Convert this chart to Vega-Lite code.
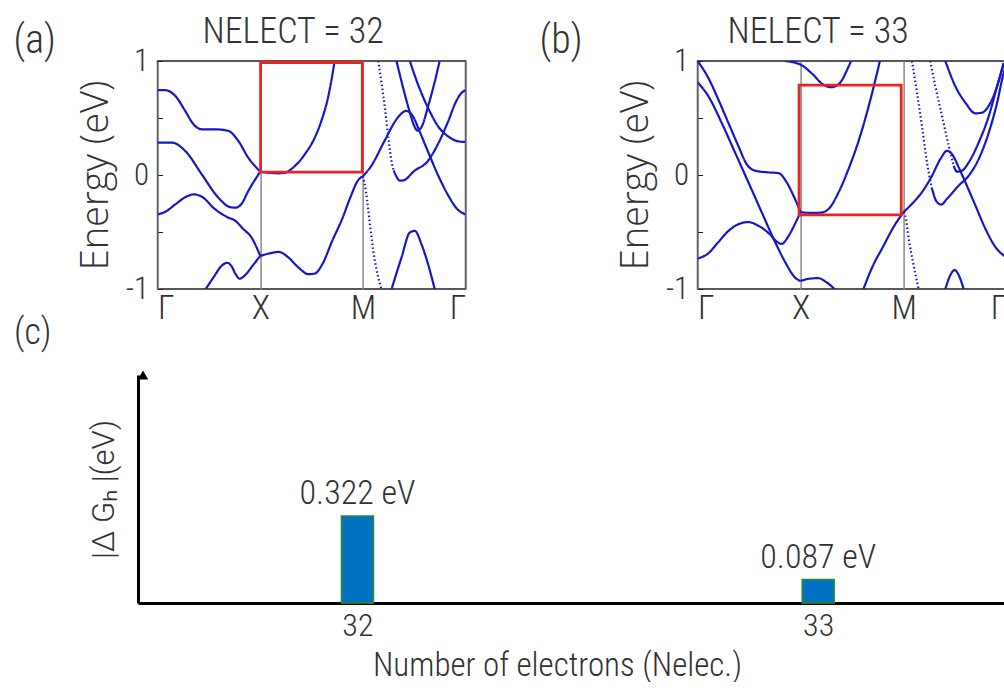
{
 "$schema": "https://vega.github.io/schema/vega-lite/v6.json",
 "padding": {"left": 12, "top": 12, "right": 0, "bottom": 0},
 "background": "white",
 "config": {
  "view": {"stroke": "#222", "strokeWidth": 1.6},
  "axis": {"labelColor": "#333", "titleColor": "#333", "titleFontWeight": 300, "labelFontWeight": 300},
  "title": {"color": "#333", "fontWeight": 300}
 },
 "datasets": {
  "bandsA": [
   {"band":"a1","line":"solid","k":0,"E":0.744},{"band":"a1","line":"solid","k":0.074,"E":0.744},{"band":"a1","line":"solid","k":0.172,"E":0.694},{"band":"a1","line":"solid","k":0.269,"E":0.562},{"band":"a1","line":"solid","k":0.35,"E":0.445},{"band":"a1","line":"solid","k":0.43,"E":0.401},{"band":"a1","line":"solid","k":0.56,"E":0.401},{"band":"a1","line":"solid","k":0.689,"E":0.387},{"band":"a1","line":"solid","k":0.786,"E":0.299},{"band":"a1","line":"solid","k":0.883,"E":0.152},{"band":"a1","line":"solid","k":1.0,"E":0.029},
   {"band":"a2","line":"solid","k":0,"E":0.284},{"band":"a2","line":"solid","k":0.139,"E":0.284},{"band":"a2","line":"solid","k":0.269,"E":0.211},{"band":"a2","line":"solid","k":0.43,"E":0.006},{"band":"a2","line":"solid","k":0.592,"E":-0.199},{"band":"a2","line":"solid","k":0.7,"E":-0.28},{"band":"a2","line":"solid","k":0.76,"E":-0.287},{"band":"a2","line":"solid","k":0.82,"E":-0.25},{"band":"a2","line":"solid","k":0.883,"E":-0.141},{"band":"a2","line":"solid","k":1.0,"E":0.029},
   {"band":"a3","line":"solid","k":1.0,"E":0.029},{"band":"a3","line":"solid","k":1.078,"E":0.02},{"band":"a3","line":"solid","k":1.175,"E":0.015},{"band":"a3","line":"solid","k":1.239,"E":0.02},{"band":"a3","line":"solid","k":1.337,"E":0.079},{"band":"a3","line":"solid","k":1.434,"E":0.182},{"band":"a3","line":"solid","k":1.531,"E":0.328},{"band":"a3","line":"solid","k":1.595,"E":0.474},{"band":"a3","line":"solid","k":1.66,"E":0.679},{"band":"a3","line":"solid","k":1.725,"E":1.0},
   {"band":"a4","line":"solid","k":1.0,"E":-0.71},{"band":"a4","line":"solid","k":1.08,"E":-0.69},{"band":"a4","line":"solid","k":1.18,"E":-0.675},{"band":"a4","line":"solid","k":1.27,"E":-0.72},{"band":"a4","line":"solid","k":1.37,"E":-0.81},{"band":"a4","line":"solid","k":1.47,"E":-0.87},{"band":"a4","line":"solid","k":1.53,"E":-0.865},{"band":"a4","line":"solid","k":1.6,"E":-0.79},{"band":"a4","line":"solid","k":1.7,"E":-0.58},{"band":"a4","line":"solid","k":1.8,"E":-0.38},{"band":"a4","line":"solid","k":1.88,"E":-0.19},{"band":"a4","line":"solid","k":1.95,"E":-0.05},{"band":"a4","line":"solid","k":2.0,"E":-0.01},
   {"band":"a5","line":"solid","k":0,"E":-0.346},{"band":"a5","line":"solid","k":0.08,"E":-0.32},{"band":"a5","line":"solid","k":0.172,"E":-0.258},{"band":"a5","line":"solid","k":0.28,"E":-0.19},{"band":"a5","line":"solid","k":0.35,"E":-0.17},{"band":"a5","line":"solid","k":0.43,"E":-0.19},{"band":"a5","line":"solid","k":0.56,"E":-0.3},{"band":"a5","line":"solid","k":0.68,"E":-0.37},{"band":"a5","line":"solid","k":0.754,"E":-0.4},{"band":"a5","line":"solid","k":0.83,"E":-0.47},{"band":"a5","line":"solid","k":0.916,"E":-0.55},{"band":"a5","line":"solid","k":1.0,"E":-0.71},
   {"band":"a6","line":"solid","k":0.469,"E":-1.0},{"band":"a6","line":"solid","k":0.55,"E":-0.89},{"band":"a6","line":"solid","k":0.62,"E":-0.8},{"band":"a6","line":"solid","k":0.68,"E":-0.77},{"band":"a6","line":"solid","k":0.72,"E":-0.8},{"band":"a6","line":"solid","k":0.76,"E":-0.87},{"band":"a6","line":"solid","k":0.8,"E":-0.91},{"band":"a6","line":"solid","k":0.85,"E":-0.88},{"band":"a6","line":"solid","k":0.93,"E":-0.79},{"band":"a6","line":"solid","k":1.0,"E":-0.71},
   {"band":"a7","line":"solid","k":2.0,"E":-0.01},{"band":"a7","line":"solid","k":2.081,"E":0.079},{"band":"a7","line":"solid","k":2.21,"E":0.299},{"band":"a7","line":"solid","k":2.34,"E":0.504},{"band":"a7","line":"solid","k":2.421,"E":0.562},{"band":"a7","line":"solid","k":2.485,"E":0.518},{"band":"a7","line":"solid","k":2.55,"E":0.387},{"band":"a7","line":"solid","k":2.631,"E":0.211},{"band":"a7","line":"solid","k":2.728,"E":0.006},{"band":"a7","line":"solid","k":2.825,"E":-0.17},{"band":"a7","line":"solid","k":2.922,"E":-0.302},{"band":"a7","line":"solid","k":3.0,"E":-0.346},
   {"band":"a8","line":"dotted","k":2.0,"E":-0.01},{"band":"a8","line":"dotted","k":2.03,"E":-0.15},{"band":"a8","line":"dotted","k":2.07,"E":-0.45},{"band":"a8","line":"dotted","k":2.11,"E":-0.72},{"band":"a8","line":"dotted","k":2.15,"E":-0.9},{"band":"a8","line":"dotted","k":2.18,"E":-1.0},
   {"band":"a9","line":"dotted","k":2.149,"E":1.0},{"band":"a9","line":"dotted","k":2.214,"E":0.589},{"band":"a9","line":"dotted","k":2.252,"E":0.297},{"band":"a9","line":"dotted","k":2.278,"E":0.122},{"band":"a9","line":"dotted","k":2.3,"E":0.04},
   {"band":"a10","line":"solid","k":2.3,"E":0.04},{"band":"a10","line":"solid","k":2.33,"E":-0.02},{"band":"a10","line":"solid","k":2.36,"E":-0.05},{"band":"a10","line":"solid","k":2.4,"E":-0.045},{"band":"a10","line":"solid","k":2.5,"E":0.035},{"band":"a10","line":"solid","k":2.63,"E":0.12},{"band":"a10","line":"solid","k":2.73,"E":0.27},{"band":"a10","line":"solid","k":2.83,"E":0.47},{"band":"a10","line":"solid","k":2.91,"E":0.65},{"band":"a10","line":"solid","k":2.96,"E":0.72},{"band":"a10","line":"solid","k":3.0,"E":0.744},
   {"band":"a11","line":"solid","k":2.327,"E":1.0},{"band":"a11","line":"solid","k":2.39,"E":0.77},{"band":"a11","line":"solid","k":2.45,"E":0.57},{"band":"a11","line":"solid","k":2.5,"E":0.43},{"band":"a11","line":"solid","k":2.53,"E":0.39},{"band":"a11","line":"solid","k":2.57,"E":0.42},{"band":"a11","line":"solid","k":2.64,"E":0.62},{"band":"a11","line":"solid","k":2.7,"E":0.82},{"band":"a11","line":"solid","k":2.747,"E":1.0},
   {"band":"a12","line":"solid","k":2.457,"E":1.0},{"band":"a12","line":"solid","k":2.537,"E":0.793},{"band":"a12","line":"solid","k":2.634,"E":0.589},{"band":"a12","line":"solid","k":2.731,"E":0.429},{"band":"a12","line":"solid","k":2.86,"E":0.321},{"band":"a12","line":"solid","k":2.93,"E":0.295},{"band":"a12","line":"solid","k":3.0,"E":0.29},
   {"band":"a13","line":"solid","k":2.279,"E":-1.0},{"band":"a13","line":"solid","k":2.376,"E":-0.723},{"band":"a13","line":"solid","k":2.457,"E":-0.504},{"band":"a13","line":"solid","k":2.505,"E":-0.49},{"band":"a13","line":"solid","k":2.57,"E":-0.606},{"band":"a13","line":"solid","k":2.634,"E":-0.781},{"band":"a13","line":"solid","k":2.699,"E":-1.0}
  ],
  "bandsB": [
   {"band":"b1","line":"solid","k":0,"E":1.0},{"band":"b1","line":"solid","k":0.104,"E":0.852},{"band":"b1","line":"solid","k":0.201,"E":0.663},{"band":"b1","line":"solid","k":0.298,"E":0.459},{"band":"b1","line":"solid","k":0.395,"E":0.256},{"band":"b1","line":"solid","k":0.476,"E":0.096},{"band":"b1","line":"solid","k":0.558,"E":0.038},{"band":"b1","line":"solid","k":0.687,"E":0.023},{"band":"b1","line":"solid","k":0.784,"E":0.017},{"band":"b1","line":"solid","k":0.865,"E":-0.064},{"band":"b1","line":"solid","k":0.93,"E":-0.18},{"band":"b1","line":"solid","k":1.0,"E":-0.325},
   {"band":"b2","line":"solid","k":0,"E":0.814},{"band":"b2","line":"solid","k":0.104,"E":0.692},{"band":"b2","line":"solid","k":0.233,"E":0.459},{"band":"b2","line":"solid","k":0.363,"E":0.198},{"band":"b2","line":"solid","k":0.493,"E":-0.064},{"band":"b2","line":"solid","k":0.622,"E":-0.326},{"band":"b2","line":"solid","k":0.752,"E":-0.587},{"band":"b2","line":"solid","k":0.849,"E":-0.762},{"band":"b2","line":"solid","k":0.947,"E":-0.9},{"band":"b2","line":"solid","k":1.0,"E":-0.93},
   {"band":"b3","line":"solid","k":0,"E":-0.733},{"band":"b3","line":"solid","k":0.1,"E":-0.69},{"band":"b3","line":"solid","k":0.2,"E":-0.59},{"band":"b3","line":"solid","k":0.3,"E":-0.49},{"band":"b3","line":"solid","k":0.4,"E":-0.43},{"band":"b3","line":"solid","k":0.49,"E":-0.413},{"band":"b3","line":"solid","k":0.59,"E":-0.445},{"band":"b3","line":"solid","k":0.69,"E":-0.51},{"band":"b3","line":"solid","k":0.77,"E":-0.585},{"band":"b3","line":"solid","k":0.815,"E":-0.605},{"band":"b3","line":"solid","k":0.88,"E":-0.54},{"band":"b3","line":"solid","k":0.95,"E":-0.42},{"band":"b3","line":"solid","k":1.0,"E":-0.325},
   {"band":"b4","line":"solid","k":0.85,"E":1.0},{"band":"b4","line":"solid","k":1.0,"E":0.968},{"band":"b4","line":"solid","k":1.11,"E":0.89},{"band":"b4","line":"solid","k":1.21,"E":0.8},{"band":"b4","line":"solid","k":1.29,"E":0.77},{"band":"b4","line":"solid","k":1.34,"E":0.78},{"band":"b4","line":"solid","k":1.4,"E":0.83},{"band":"b4","line":"solid","k":1.45,"E":0.92},{"band":"b4","line":"solid","k":1.49,"E":1.0},
   {"band":"b5","line":"solid","k":1.0,"E":-0.325},{"band":"b5","line":"solid","k":1.1,"E":-0.333},{"band":"b5","line":"solid","k":1.2,"E":-0.33},{"band":"b5","line":"solid","k":1.28,"E":-0.29},{"band":"b5","line":"solid","k":1.37,"E":-0.15},{"band":"b5","line":"solid","k":1.46,"E":0.04},{"band":"b5","line":"solid","k":1.56,"E":0.29},{"band":"b5","line":"solid","k":1.66,"E":0.6},{"band":"b5","line":"solid","k":1.73,"E":0.85},{"band":"b5","line":"solid","k":1.77,"E":1.0},
   {"band":"b6","line":"solid","k":1.0,"E":-0.93},{"band":"b6","line":"solid","k":1.08,"E":-0.91},{"band":"b6","line":"solid","k":1.17,"E":-0.905},{"band":"b6","line":"solid","k":1.25,"E":-0.94},{"band":"b6","line":"solid","k":1.33,"E":-1.0},
   {"band":"b7","line":"solid","k":1.61,"E":-1.0},{"band":"b7","line":"solid","k":1.7,"E":-0.8},{"band":"b7","line":"solid","k":1.8,"E":-0.63},{"band":"b7","line":"solid","k":1.9,"E":-0.46},{"band":"b7","line":"solid","k":2.0,"E":-0.325},
   {"band":"b8","line":"solid","k":2.0,"E":-0.325},{"band":"b8","line":"solid","k":2.081,"E":-0.253},{"band":"b8","line":"solid","k":2.178,"E":-0.151},{"band":"b8","line":"solid","k":2.276,"E":-0.006},{"band":"b8","line":"solid","k":2.357,"E":0.14},{"band":"b8","line":"solid","k":2.421,"E":0.212},{"band":"b8","line":"solid","k":2.47,"E":0.183},{"band":"b8","line":"solid","k":2.535,"E":0.067},{"band":"b8","line":"solid","k":2.6,"E":-0.064},{"band":"b8","line":"solid","k":2.697,"E":-0.267},{"band":"b8","line":"solid","k":2.794,"E":-0.471},{"band":"b8","line":"solid","k":2.891,"E":-0.631},{"band":"b8","line":"solid","k":3.0,"E":-0.724},
   {"band":"b9","line":"dotted","k":2.081,"E":1.0},{"band":"b9","line":"dotted","k":2.13,"E":0.721},{"band":"b9","line":"dotted","k":2.178,"E":0.43},{"band":"b9","line":"dotted","k":2.227,"E":0.11},{"band":"b9","line":"dotted","k":2.276,"E":-0.122},
   {"band":"b10","line":"solid","k":2.276,"E":-0.122},{"band":"b10","line":"solid","k":2.324,"E":-0.238},{"band":"b10","line":"solid","k":2.366,"E":-0.259},{"band":"b10","line":"solid","k":2.421,"E":-0.209},{"band":"b10","line":"solid","k":2.535,"E":-0.093},{"band":"b10","line":"solid","k":2.632,"E":-0.006},{"band":"b10","line":"solid","k":2.729,"E":0.14},{"band":"b10","line":"solid","k":2.827,"E":0.372},{"band":"b10","line":"solid","k":2.908,"E":0.634},{"band":"b10","line":"solid","k":2.972,"E":0.895},{"band":"b10","line":"solid","k":3.0,"E":0.968},
   {"band":"b11","line":"dotted","k":2.259,"E":1.0},{"band":"b11","line":"dotted","k":2.308,"E":0.779},{"band":"b11","line":"dotted","k":2.373,"E":0.517},{"band":"b11","line":"dotted","k":2.438,"E":0.256},{"band":"b11","line":"dotted","k":2.486,"E":0.081},
   {"band":"b12","line":"solid","k":2.486,"E":0.081},{"band":"b12","line":"solid","k":2.519,"E":0.029},{"band":"b12","line":"solid","k":2.567,"E":0.038},{"band":"b12","line":"solid","k":2.632,"E":0.11},{"band":"b12","line":"solid","k":2.729,"E":0.285},{"band":"b12","line":"solid","k":2.827,"E":0.517},{"band":"b12","line":"solid","k":2.908,"E":0.779},{"band":"b12","line":"solid","k":2.972,"E":0.983},
   {"band":"b13","line":"solid","k":2.405,"E":1.0},{"band":"b13","line":"solid","k":2.502,"E":0.779},{"band":"b13","line":"solid","k":2.6,"E":0.634},{"band":"b13","line":"solid","k":2.697,"E":0.541},{"band":"b13","line":"solid","k":2.762,"E":0.547},{"band":"b13","line":"solid","k":2.843,"E":0.634},{"band":"b13","line":"solid","k":2.908,"E":0.779},{"band":"b13","line":"solid","k":2.972,"E":0.983},
   {"band":"b14","line":"dotted","k":2.0,"E":-0.325},{"band":"b14","line":"dotted","k":2.016,"E":-0.355},{"band":"b14","line":"dotted","k":2.049,"E":-0.558},{"band":"b14","line":"dotted","k":2.097,"E":-0.791},{"band":"b14","line":"dotted","k":2.146,"E":-1.0},
   {"band":"b15","line":"solid","k":2.405,"E":-1.0},{"band":"b15","line":"solid","k":2.454,"E":-0.878},{"band":"b15","line":"solid","k":2.496,"E":-0.834},{"band":"b15","line":"solid","k":2.535,"E":-0.878},{"band":"b15","line":"solid","k":2.583,"E":-1.0}
  ],
  "boxes": [
   {"panel":"a","k0":1.003,"k1":1.994,"e0":0.026,"e1":0.987},
   {"panel":"b","k0":0.985,"k1":1.977,"e0":-0.349,"e1":0.788}
  ],
  "dg": [
   {"nelec":32,"dg":0.322},
   {"nelec":33,"dg":0.087}
  ]
 },
 "center": true,
 "spacing": -11,
 "vconcat": [
  {
   "bounds": "flush",
   "spacing": 232,
   "hconcat": [
    {
     "width": 308, "height": 228,
     "title": {"text": "(a)", "anchor": "start", "frame": "group", "dx": -144, "offset": -80, "baseline": "alphabetic", "fontSize": 40, "font": "Roboto Condensed"},
     "layer": [
      {
       "data": {"name": "bandsA"},
       "mark": {"type": "line", "color": "#1717c9", "strokeWidth": 2.2, "interpolate": "monotone", "clip": true},
       "encoding": {
        "x": {"field": "k", "type": "quantitative", "scale": {"domain": [0, 3], "nice": false, "zero": false},
              "axis": {"orient": "bottom", "values": [0, 1, 2, 3], "labelExpr": "datum.value == 1 ? 'X' : datum.value == 2 ? 'M' : 'Γ'", "labelFlush": true, "ticks": false, "domain": false, "grid": true, "gridColor": "#8a8a8a", "gridWidth": 1.5, "title": null, "labelFontSize": 34, "labelFont": "Roboto Condensed", "labelPadding": 2}},
        "y": {"field": "E", "type": "quantitative", "scale": {"domain": [-1, 1], "nice": false},
              "axis": {"values": [-1, -0.5, 0, 0.5, 1], "labelExpr": "datum.value == 1 ? '1' : datum.value == 0 ? '0' : datum.value == -1 ? '-1' : ''", "tickSize": -5, "tickColor": "#222", "domain": false, "grid": false, "labelFontSize": 31, "labelFont": "Roboto Condensed", "labelPadding": 14, "title": "Energy (eV)", "titleFontSize": 38, "titleFont": "Open Sans", "titlePadding": 10}},
        "detail": {"field": "band"},
        "strokeDash": {"field": "line", "type": "nominal", "scale": {"domain": ["solid", "dotted"], "range": [[1, 0], [1.5, 2.5]]}, "legend": null}
       }
      },
      {
       "mark": {"type": "rule", "color": "#777", "strokeDash": [6, 4], "strokeWidth": 1.2},
       "encoding": {"y": {"datum": 0}}
      },
      {
       "data": {"name": "boxes"},
       "transform": [{"filter": "datum.panel == 'a'"}],
       "mark": {"type": "rect", "fill": null, "stroke": "#e8251f", "strokeWidth": 2.8},
       "encoding": {
        "x": {"field": "k0", "type": "quantitative", "axis": {"orient": "top", "labels": false, "ticks": false, "domain": false, "grid": false, "title": "NELECT = 32", "titleFontSize": 36, "titleFont": "Roboto Condensed", "titlePadding": 11, "titleX": 135}},
        "x2": {"field": "k1"},
        "y": {"field": "e0", "type": "quantitative", "title": "Energy (eV)"},
        "y2": {"field": "e1"}
       }
      }
     ],
     "resolve": {"axis": {"x": "independent"}}
    },
    {
     "width": 309, "height": 228,
     "title": {"text": "(b)", "anchor": "start", "frame": "group", "dx": -158, "offset": -80, "baseline": "alphabetic", "fontSize": 40, "font": "Roboto Condensed"},
     "layer": [
      {
       "data": {"name": "bandsB"},
       "mark": {"type": "line", "color": "#1717c9", "strokeWidth": 2.2, "interpolate": "monotone", "clip": true},
       "encoding": {
        "x": {"field": "k", "type": "quantitative", "scale": {"domain": [0, 3], "nice": false, "zero": false},
              "axis": {"orient": "bottom", "values": [0, 1, 2, 3], "labelExpr": "datum.value == 1 ? 'X' : datum.value == 2 ? 'M' : 'Γ'", "labelFlush": true, "ticks": false, "domain": false, "grid": true, "gridColor": "#8a8a8a", "gridWidth": 1.5, "title": null, "labelFontSize": 34, "labelFont": "Roboto Condensed", "labelPadding": 2}},
        "y": {"field": "E", "type": "quantitative", "scale": {"domain": [-1, 1], "nice": false},
              "axis": {"values": [-1, -0.5, 0, 0.5, 1], "labelExpr": "datum.value == 1 ? '1' : datum.value == 0 ? '0' : datum.value == -1 ? '-1' : ''", "tickSize": -5, "tickColor": "#222", "domain": false, "grid": false, "labelFontSize": 31, "labelFont": "Roboto Condensed", "labelPadding": 14, "title": "Energy (eV)", "titleFontSize": 38, "titleFont": "Open Sans", "titlePadding": 10}},
        "detail": {"field": "band"},
        "strokeDash": {"field": "line", "type": "nominal", "scale": {"domain": ["solid", "dotted"], "range": [[1, 0], [1.5, 2.5]]}, "legend": null}
       }
      },
      {
       "mark": {"type": "rule", "color": "#777", "strokeDash": [6, 4], "strokeWidth": 1.2},
       "encoding": {"y": {"datum": 0}}
      },
      {
       "data": {"name": "boxes"},
       "transform": [{"filter": "datum.panel == 'b'"}],
       "mark": {"type": "rect", "fill": null, "stroke": "#e8251f", "strokeWidth": 2.8},
       "encoding": {
        "x": {"field": "k0", "type": "quantitative", "axis": {"orient": "top", "labels": false, "ticks": false, "domain": false, "grid": false, "title": "NELECT = 33", "titleFontSize": 36, "titleFont": "Roboto Condensed", "titlePadding": 11, "titleX": 120}},
        "x2": {"field": "k1"},
        "y": {"field": "e0", "type": "quantitative", "title": "Energy (eV)"},
        "y2": {"field": "e1"}
       }
      }
     ],
     "resolve": {"axis": {"x": "independent"}}
    }
   ]
  },
  {
   "width": 889, "height": 228,
   "view": {"stroke": null},
   "title": {"text": "(c)", "anchor": "start", "frame": "group", "dx": -124, "offset": -10, "baseline": "alphabetic", "fontSize": 36, "font": "Roboto Condensed"},
   "data": {"name": "dg"},
   "layer": [
    {
     "mark": {"type": "bar", "width": 32, "color": "#0070c0", "stroke": "#2e8b2e", "strokeWidth": 1.5},
     "encoding": {
      "x": {"field": "nelec", "type": "quantitative", "scale": {"domain": [31.5346, 33.4424], "nice": false, "zero": false},
            "axis": {"values": [32, 33], "format": "d", "ticks": false, "grid": false, "domainColor": "#000", "domainWidth": 3, "labelFontSize": 32, "labelFont": "Roboto Condensed", "labelPadding": 7, "title": "Number of electrons (Nelec.)", "titleFontSize": 33, "titleFont": "Roboto Condensed", "titlePadding": 8, "titleX": 419, "titleAlign": "center"}},
      "y": {"field": "dg", "type": "quantitative", "scale": {"domain": [0, 0.845], "nice": false},
            "axis": {"labels": false, "ticks": false, "grid": false, "domainColor": "#000", "domainWidth": 3, "title": "|Δ Gₕ |(eV)", "titleFontSize": 31, "titleFont": "Roboto", "titlePadding": 18}}
     }
    },
    {
     "transform": [{"calculate": "format(datum.dg, '.3f') + ' eV'", "as": "lbl"}],
     "mark": {"type": "text", "baseline": "alphabetic", "dy": -12, "fontSize": 34, "font": "Roboto Condensed", "fontWeight": 300, "color": "#333"},
     "encoding": {
      "x": {"field": "nelec", "type": "quantitative"},
      "y": {"field": "dg", "type": "quantitative"},
      "text": {"field": "lbl"}
     }
    },
    {
     "data": {"values": [{"part": "arrow"}]},
     "mark": {"type": "point", "shape": "triangle-up", "filled": true, "color": "#000", "size": 110, "opacity": 1, "clip": false},
     "encoding": {"x": {"datum": 31.5346}, "y": {"datum": 0.845}}
    }
   ]
  }
 ]
}
